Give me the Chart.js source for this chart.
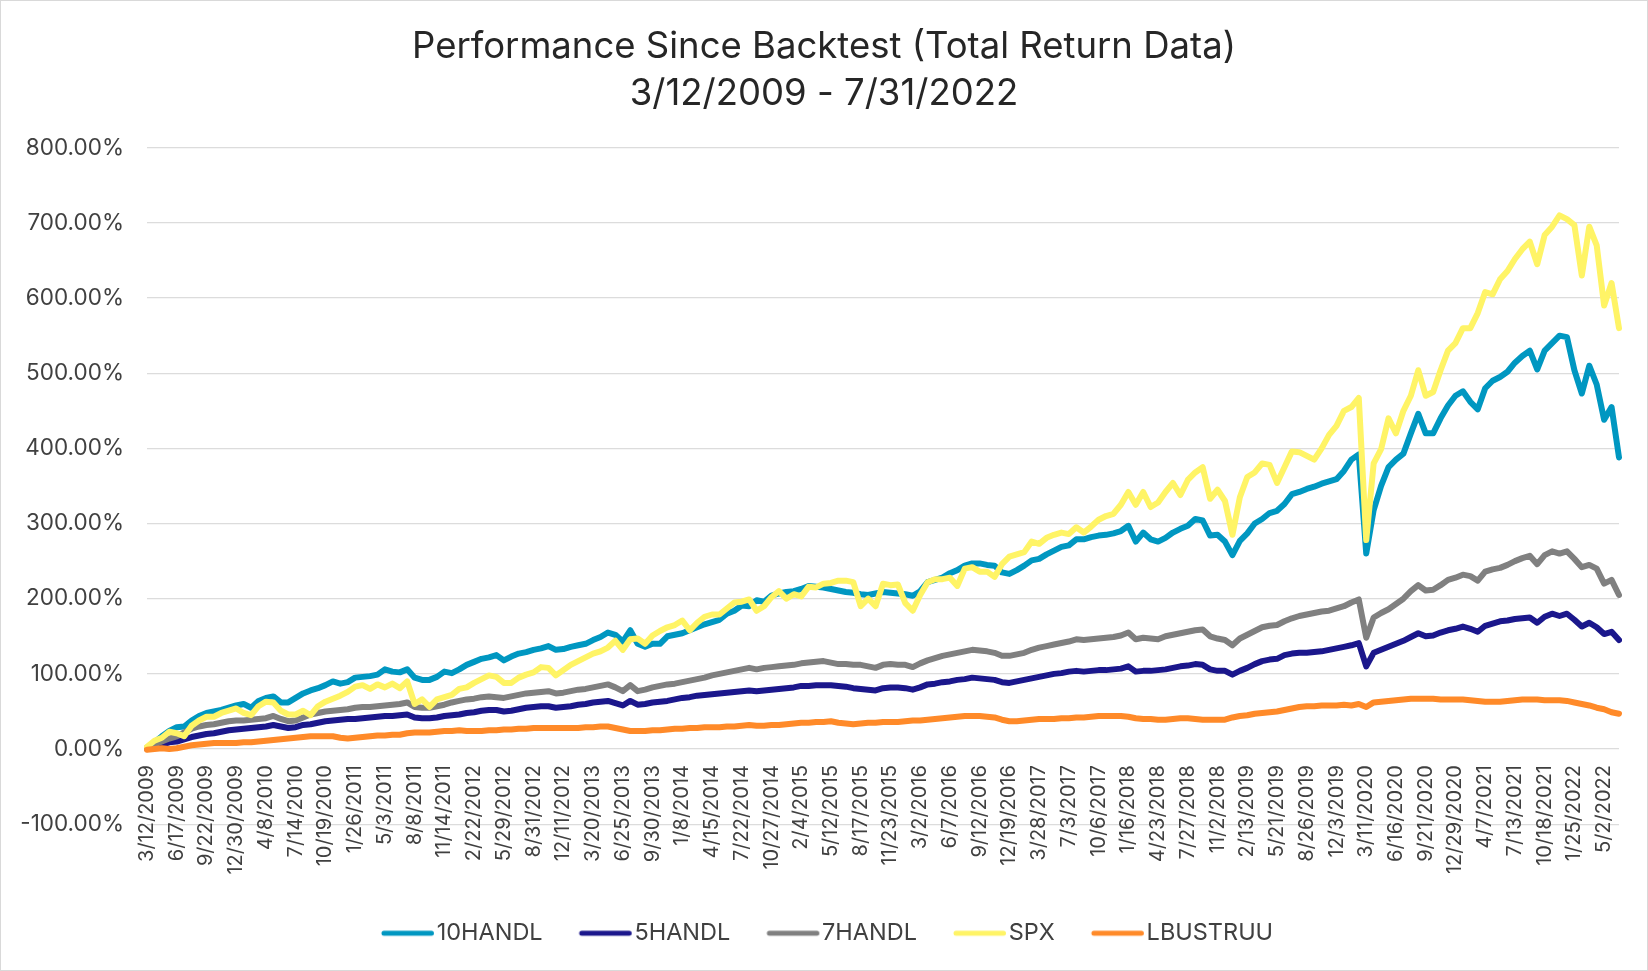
<!DOCTYPE html>
<html><head><meta charset="utf-8">
<script src="https://cdn.jsdelivr.net/npm/chart.js@4.4.0/dist/chart.umd.min.js"></script>
<style>
html,body{margin:0;padding:0;background:#fff;}
#wrap{position:relative;width:1648px;height:971px;overflow:hidden;}
#wrap canvas{position:absolute;left:0;top:0;}
#frame{position:absolute;left:0;top:0;width:1648px;height:971px;box-sizing:border-box;border:1px solid #d9d9d9;pointer-events:none;}
</style></head>
<body><div id="wrap"><canvas id="c" width="1648" height="971"></canvas><div id="frame"></div></div>
<script>
const titleLines = ['Performance Since Backtest (Total Return Data)', '3/12/2009 - 7/31/2022'];
const seriesNames = ['10HANDL', '5HANDL', '7HANDL', 'SPX', 'LBUSTRUU'];
const tickLabels = ['3/12/2009','6/17/2009','9/22/2009','12/30/2009','4/8/2010','7/14/2010','10/19/2010','1/26/2011','5/3/2011','8/8/2011','11/14/2011','2/22/2012','5/29/2012','8/31/2012','12/11/2012','3/20/2013','6/25/2013','9/30/2013','1/8/2014','4/15/2014','7/22/2014','10/27/2014','2/4/2015','5/12/2015','8/17/2015','11/23/2015','3/2/2016','6/7/2016','9/12/2016','12/19/2016','3/28/2017','7/3/2017','10/6/2017','1/16/2018','4/23/2018','7/27/2018','11/2/2018','2/13/2019','5/21/2019','8/26/2019','12/3/2019','3/11/2020','6/16/2020','9/21/2020','12/29/2020','4/7/2021','7/13/2021','10/18/2021','1/25/2022','5/2/2022'];
const samplesPerTick = 4;

const h10 = [0,9,17,24,29,30,38,44,48,50,52,55,58,60,55,64,68,70,62,62,68,74,78,81,85,90,87,89,95,96,97,99,106,103,102,106,95,92,92,96,103,101,106,
112,116,120,122,125,118,123,127,129,132,134,137,132,133,136,138,140,145,149,155,152,143,158,140,136,140,140,150,152,154,158,162,166,169,172,180,184,191,190,
198,196,204,207,209,210,213,217,216,215,213,211,209,208,206,205,207,209,208,207,206,204,210,222,225,228,234,238,244,247,247,245,244,235,233,238,244,251,253,259,264,269,271,279,
279,282,284,285,287,290,297,276,288,279,276,281,288,293,297,306,304,284,285,276,258,277,287,300,306,314,317,326,339,342,346,349,353,356,359,370,
385,392,260,318,350,375,385,393,420,446,420,420,440,457,470,476,462,452,480,490,495,502,514,523,530,505,530,540,550,548,504,473,510,485,438,455,388];

const h5 = [1,4,6,9,10,13,16,18,20,21,23,25,26,27,28,29,30,32,30,28,29,32,33,35,37,38,39,40,40,41,42,43,44,44,45,46,42,41,41,42,44,45,46,
48,49,51,52,52,50,51,53,55,56,57,57,55,56,57,59,60,62,63,64,61,58,64,59,60,62,63,64,66,68,69,71,72,73,74,75,76,77,78,
77,78,79,80,81,82,84,84,85,85,85,84,83,81,80,79,78,81,82,82,81,79,82,86,87,89,90,92,93,95,94,93,92,89,88,90,92,94,96,98,100,101,103,104,
103,104,105,105,106,107,110,103,104,104,105,106,108,110,111,113,112,106,104,104,99,104,108,113,117,119,120,125,127,128,128,129,130,132,134,136,
138,141,110,128,132,136,140,144,149,154,150,151,155,158,160,163,160,156,164,167,170,171,173,174,175,168,176,180,177,180,172,163,168,162,153,156,145];

const h7 = [2,6,10,14,17,22,27,30,32,33,35,37,38,38,39,40,41,44,40,37,38,42,46,48,50,51,52,53,55,56,56,57,58,59,60,62,56,55,55,57,59,62,64,
66,67,69,70,69,68,70,72,74,75,76,77,74,75,77,79,80,82,84,86,82,77,85,77,79,82,84,86,87,89,91,93,95,98,100,102,104,106,108,
106,108,109,110,111,112,114,115,116,117,115,113,113,112,112,110,108,112,113,112,112,109,114,118,121,124,126,128,130,132,131,130,128,124,124,126,128,132,135,137,139,141,143,146,
145,146,147,148,149,151,155,146,148,147,146,150,152,154,156,158,159,150,147,145,138,147,152,157,162,164,165,170,174,177,179,181,183,184,187,190,
195,199,148,175,181,186,193,200,210,218,211,212,218,225,228,232,230,224,236,239,241,245,250,254,257,246,258,263,260,263,253,242,245,240,220,225,205];

const spx = [3,11,15,23,21,17,31,38,43,43,48,51,54,48,45,57,63,62,51,46,46,51,45,57,63,67,71,76,83,85,80,86,82,87,81,90,60,66,56,66,69,72,80,
82,88,93,98,96,88,88,95,99,102,109,108,98,105,112,117,122,127,130,135,144,132,146,147,140,151,157,162,165,171,158,168,176,179,179,187,195,196,199,
184,190,202,210,200,206,203,216,215,220,221,224,224,222,190,200,190,220,218,219,194,184,205,222,226,226,228,217,240,242,236,236,229,246,256,259,262,276,273,281,285,288,286,295,
288,296,305,310,313,325,342,325,342,322,328,342,354,338,358,368,375,333,345,330,285,335,362,368,380,378,354,375,396,395,390,385,400,418,430,450,
455,467,278,380,399,440,420,450,470,504,470,475,504,530,540,560,560,580,608,605,625,636,652,665,675,645,684,695,710,705,697,630,695,670,590,620,560];

const lbus = [-1,0,1,0,1,3,5,6,7,8,8,8,8,9,9,10,11,12,13,14,15,16,17,17,17,17,15,14,15,16,17,18,18,19,19,21,22,22,22,23,24,24,25,
24,24,24,25,25,26,26,27,27,28,28,28,28,28,28,28,29,29,30,30,28,26,24,24,24,25,25,26,27,27,28,28,29,29,29,30,30,31,32,
31,31,32,32,33,34,35,35,36,36,37,35,34,33,34,35,35,36,36,36,37,38,38,39,40,41,42,43,44,44,44,43,42,39,37,37,38,39,40,40,40,41,41,42,
42,43,44,44,44,44,43,41,40,40,39,39,40,41,41,40,39,39,39,39,42,44,45,47,48,49,50,52,54,56,57,57,58,58,58,59,
58,60,56,62,63,64,65,66,67,67,67,67,66,66,66,66,65,64,63,63,63,64,65,66,66,66,65,65,65,64,62,60,58,55,53,49,47];

const yTicks = {min: -100, max: 800, step: 100};

const categories = h10.map((_, i) => (i % samplesPerTick === 0 && tickLabels[i / samplesPerTick]) ? tickLabels[i / samplesPerTick] : '');

const colors = ['#0097c1', '#1b178c', '#808080', '#fff466', '#ff8a29'];
const seriesData = [h10, h5, h7, spx, lbus];
const drawOrder = [5, 4, 3, 2, 1];

// legend swatch: a short round-capped line, offset toward the label text
function swatch(color) {
  const c = document.createElement('canvas');
  c.width = 72; c.height = 8;
  const g = c.getContext('2d');
  g.strokeStyle = color; g.lineWidth = 5; g.lineCap = 'round';
  g.beginPath(); g.moveTo(19, 4); g.lineTo(66.5, 4); g.stroke();
  return c;
}

Chart.defaults.font.family = 'Inter, "DejaVu Sans", sans-serif';
Chart.defaults.color = '#404040';

const legendShift = {
  id: 'legendShift',
  afterLayout(chart) {
    if (chart.legend) { chart.legend.left += 1; chart.legend.right += 1; }
  }
};

new Chart(document.getElementById('c'), {
  type: 'line',
  data: {
    labels: categories,
    datasets: seriesNames.map((name, k) => ({
      label: name,
      data: seriesData[k],
      borderColor: colors[k],
      backgroundColor: colors[k],
      borderWidth: 6,
      pointRadius: 0,
      pointStyle: swatch(colors[k]),
      tension: 0,
      borderJoinStyle: 'round',
      borderCapStyle: 'round',
      fill: false,
      order: drawOrder[k]
    }))
  },
  plugins: [legendShift],
  options: {
    responsive: false,
    animation: false,
    devicePixelRatio: 1,
    events: [],
    layout: {padding: {top: 0, left: 0, right: 0, bottom: 16}},
    plugins: {
      tooltip: {enabled: false},
      title: {
        display: true,
        text: titleLines,
        color: '#262626',
        font: {size: 36.5, weight: 'normal', lineHeight: 1.28},
        padding: {top: 23.6, bottom: 30.7}
      },
      legend: {
        position: 'bottom',
        title: {display: true, text: '', font: {size: 10, lineHeight: 1.2}, padding: {top: 53.3, bottom: 0}},
        labels: {
          usePointStyle: true,
          pointStyleWidth: 48,
          font: {size: 23.5},
          color: '#404040',
          padding: 32,
          sort: (a, b) => a.datasetIndex - b.datasetIndex
        }
      }
    },
    scales: {
      x: {
        type: 'category',
        position: {y: 0},
        grid: {display: false, drawTicks: false},
        border: {display: false},
        ticks: {autoSkip: false, maxRotation: 90, minRotation: 90, padding: 16, font: {size: 20}, color: '#404040'},
        afterFit: (s) => { s.height = 0; s.paddingLeft = 0; s.paddingRight = 29; }
      },
      y: {
        min: yTicks.min,
        max: yTicks.max,
        grid: {color: '#dcdcdc', lineWidth: 1.3, drawTicks: false},
        border: {display: false},
        ticks: {stepSize: yTicks.step, padding: 23, font: {size: 22.5}, color: '#404040',
          callback: (v) => v.toFixed(2) + '%'},
        afterFit: (s) => { s.width = 147; }
      }
    }
  }
});
</script>
</body></html>
